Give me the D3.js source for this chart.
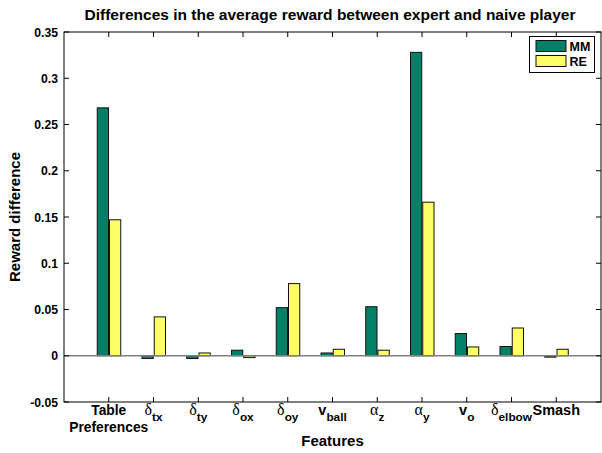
<!DOCTYPE html>
<html>
<head>
<meta charset="utf-8">
<script src="https://cdn.jsdelivr.net/npm/d3@7"></script>
<style>
  html, body { margin: 0; padding: 0; background: #fff; }
  svg { display: block; }
  text { font-family: "Liberation Sans", Arial, Helvetica, sans-serif; font-weight: bold; fill: #000; }
  .greek { font-family: "Liberation Serif", "DejaVu Serif", serif; font-weight: normal; }
</style>
</head>
<body>
<svg id="chart" width="602" height="453"></svg>
<script>
// Feature labels: main symbol and its subscript
const featureMain = ["Table", "δ", "δ", "δ", "δ", "v", "α", "α", "v", "δ", "Smash"];
const featureSub  = ["", "tx", "ty", "ox", "oy", "ball", "z", "y", "o", "elbow", ""];
const featureGreek = [false, true, true, true, true, false, true, true, false, true, false];

// Reward difference between expert and naive player, per feature
const seriesNames = ["MM", "RE"];
const mmValues = [0.268, -0.003, -0.003, 0.006, 0.052, 0.003, 0.053, 0.328, 0.024, 0.010, -0.0015];
const reValues = [0.147, 0.042, 0.003, -0.002, 0.078, 0.007, 0.006, 0.166, 0.0095, 0.030, 0.007];
const seriesColors = ["#008066", "#ffff66"];

const yTicks = [-0.05, 0, 0.05, 0.1, 0.15, 0.2, 0.25, 0.3, 0.35];
const yTickLabels = ["-0.05", "0", "0.05", "0.1", "0.15", "0.2", "0.25", "0.3", "0.35"];

const svg = d3.select("#chart");
const plotLeft = 64, plotRight = 601, plotTop = 32, plotBottom = 402;

const x = d3.scaleLinear().domain([0, featureMain.length + 1]).range([plotLeft, plotRight]);
const y = d3.scaleLinear().domain([-0.05, 0.35]).range([plotBottom, plotTop]);
const sub = d3.scaleBand().domain(seriesNames).range([-11.5, 12]).paddingInner(0.08);

const series = [mmValues, reValues];

// Bars
series.forEach((vals, si) => {
  svg.append("g").selectAll("rect")
    .data(vals)
    .join("rect")
    .attr("x", (d, i) => x(i + 1) + sub(seriesNames[si]))
    .attr("width", sub.bandwidth())
    .attr("y", d => y(Math.max(0, d)))
    .attr("height", d => Math.abs(y(d) - y(0)))
    .attr("fill", seriesColors[si])
    .attr("stroke", "#111")
    .attr("stroke-width", 1);
});

// Baseline at zero
svg.append("line")
  .attr("x1", plotLeft).attr("x2", plotRight)
  .attr("y1", y(0)).attr("y2", y(0))
  .attr("stroke", "#808080").attr("stroke-width", 1.3);

// Axes box
svg.append("rect")
  .attr("x", plotLeft).attr("y", plotTop)
  .attr("width", plotRight - plotLeft).attr("height", plotBottom - plotTop)
  .attr("fill", "none").attr("stroke", "#000").attr("stroke-width", 1);

// Inward ticks on all four sides
const tickLen = 5;
const xTickPos = d3.range(1, featureMain.length + 1);
const tg = svg.append("g").attr("stroke", "#000").attr("stroke-width", 1);
xTickPos.forEach(t => {
  tg.append("line").attr("x1", x(t)).attr("x2", x(t)).attr("y1", plotBottom).attr("y2", plotBottom - tickLen);
  tg.append("line").attr("x1", x(t)).attr("x2", x(t)).attr("y1", plotTop).attr("y2", plotTop + tickLen);
});
yTicks.forEach(t => {
  tg.append("line").attr("x1", plotLeft).attr("x2", plotLeft + tickLen).attr("y1", y(t)).attr("y2", y(t));
  tg.append("line").attr("x1", plotRight).attr("x2", plotRight - tickLen).attr("y1", y(t)).attr("y2", y(t));
});

// Y tick labels
svg.append("g").selectAll("text")
  .data(yTicks)
  .join("text")
  .attr("x", plotLeft - 6)
  .attr("y", d => y(d) + 4.5)
  .attr("text-anchor", "end")
  .attr("font-size", 12.2)
  .text((d, i) => yTickLabels[i]);

// X tick labels
featureMain.forEach((m, i) => {
  const cx = x(i + 1);
  if (m === "Table") {
    svg.append("text").attr("x", cx).attr("y", 415).attr("text-anchor", "middle")
      .attr("font-size", 13.8).text("Table");
    svg.append("text").attr("x", cx).attr("y", 432).attr("text-anchor", "middle")
      .attr("font-size", 13.8).text("Preferences");
    return;
  }
  const t = svg.append("text").attr("x", cx).attr("y", 415).attr("text-anchor", "middle")
    .attr("font-size", 13.5);
  t.append("tspan")
    .attr("class", featureGreek[i] ? "greek" : null)
    .attr("font-size", featureGreek[i] ? 16 : 14.5)
    .text(m);
  if (featureSub[i]) {
    t.append("tspan").attr("dy", 6).attr("font-size", 11.8).text(featureSub[i]);
  }
});

// Axis titles
svg.append("text").attr("x", (plotLeft + plotRight) / 2).attr("y", 446)
  .attr("text-anchor", "middle").attr("font-size", 15).text("Features");
svg.append("text")
  .attr("transform", `translate(20,${(plotTop + plotBottom) / 2}) rotate(-90)`)
  .attr("text-anchor", "middle").attr("font-size", 15).text("Reward difference");
svg.append("text").attr("x", 330).attr("y", 20)
  .attr("text-anchor", "middle").attr("font-size", 15.5)
  .text("Differences in the average reward between expert and naive player");

// Legend
const lg = svg.append("g");
lg.append("rect").attr("x", 529.5).attr("y", 36.5).attr("width", 65).attr("height", 36)
  .attr("fill", "#fff").attr("stroke", "#000");
seriesNames.forEach((n, i) => {
  lg.append("rect").attr("x", 536).attr("y", 40.5 + i * 15).attr("width", 30).attr("height", 11)
    .attr("fill", seriesColors[i]).attr("stroke", "#111");
  lg.append("text").attr("x", 569.5).attr("y", 51 + i * 15).attr("font-size", 12.5).text(n);
});
</script>
</body>
</html>
